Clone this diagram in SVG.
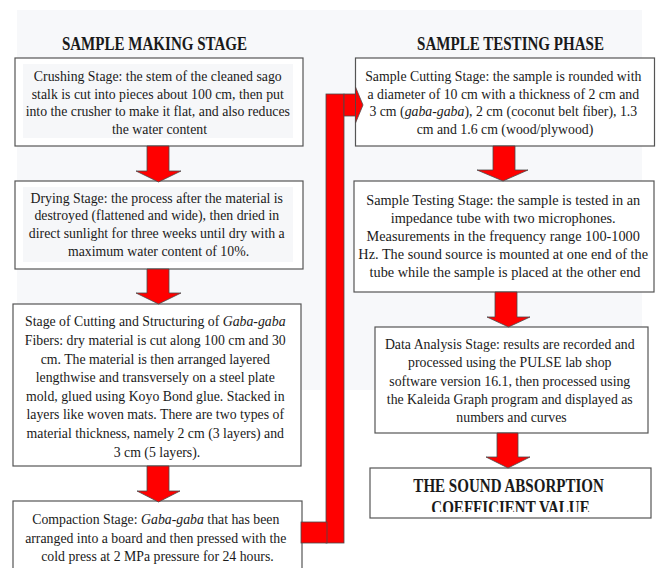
<svg xmlns="http://www.w3.org/2000/svg" width="662" height="568" viewBox="0 0 662 568">
<defs>
<style>
.t{font-family:"Liberation Serif","Times New Roman",serif;font-size:15px;fill:#1a1a1a;text-anchor:middle}
.h{font-family:"Liberation Serif","Times New Roman",serif;font-size:18px;font-weight:bold;fill:#1a1a1a;text-anchor:middle}
.box{fill:#ffffff;stroke:#555555;stroke-width:1.2}
.inner{fill:#f6f7f9}
.ar{fill:#ff0000;stroke:#4a4a4a;stroke-width:0.8;stroke-linejoin:miter}
.it{font-style:italic}
</style>
<clipPath id="clip8"><rect x="370" y="468" width="281" height="44"/></clipPath>
</defs>
<rect x="0" y="0" width="662" height="568" fill="#ffffff"/>
<rect x="17" y="10" width="625" height="380" fill="#f7f8fa"/>

<g id="title-left"><text class="h" transform="translate(154.5 0) scale(0.836 1)"><tspan x="0" y="50">SAMPLE MAKING STAGE</tspan></text></g>
<g id="title-right"><text class="h" transform="translate(510.5 0) scale(0.836 1)"><tspan x="0" y="50">SAMPLE TESTING PHASE</tspan></text></g>

<g id="crushing">
<rect class="box" x="15" y="58" width="288" height="88"/>
<rect class="inner" x="23" y="64" width="270" height="74"/>
<text class="t" transform="translate(159.5 0) scale(0.92 1)">
<tspan x="0" y="81">Crushing Stage: the stem of the cleaned sago</tspan>
<tspan x="0" y="98.7">stalk is cut into pieces about 100 cm, then put</tspan>
<tspan x="0" y="116.4">into the crusher to make it flat, and also reduces</tspan>
<tspan x="0" y="134.1">the water content</tspan>
</text>
</g>

<g id="drying">
<rect class="box" x="15" y="181" width="288" height="88"/>
<rect class="inner" x="23" y="187" width="270" height="75"/>
<text class="t" transform="translate(158.5 0) scale(0.92 1)">
<tspan x="0" y="202.7">Drying Stage: the process after the material is</tspan>
<tspan x="0" y="220.4">destroyed (flattened and wide), then dried in</tspan>
<tspan x="0" y="238.1">direct sunlight for three weeks until dry with a</tspan>
<tspan x="0" y="255.8">maximum water content of 10%.</tspan>
</text>
</g>

<g id="cutting-structuring">
<rect class="box" x="13" y="304" width="288" height="162"/>
<text class="t" transform="translate(157 0) scale(0.92 1)">
<tspan x="0" y="326.5">Stage of Cutting and Structuring of <tspan class="it">Gaba-gaba</tspan></tspan>
<tspan x="0" y="345.1">Fibers: dry material is cut along 100 cm and 30</tspan>
<tspan x="0" y="363.7">cm. The material is then arranged layered</tspan>
<tspan x="0" y="382.3">lengthwise and transversely on a steel plate</tspan>
<tspan x="0" y="400.9">mold, glued using Koyo Bond glue. Stacked in</tspan>
<tspan x="0" y="419.5">layers like woven mats. There are two types of</tspan>
<tspan x="0" y="438.1">material thickness, namely 2 cm (3 layers) and</tspan>
<tspan x="0" y="456.7">3 cm (5 layers).</tspan>
</text>
</g>

<g id="compaction">
<rect class="box" x="13" y="501" width="289" height="80"/>
<text class="t" transform="translate(157.5 0) scale(0.92 1)">
<tspan x="0" y="524.5">Compaction Stage: <tspan class="it">Gaba-gaba</tspan> that has been</tspan>
<tspan x="0" y="543">arranged into a board and then pressed with the</tspan>
<tspan x="0" y="561.5">cold press at 2 MPa pressure for 24 hours.</tspan>
</text>
</g>

<g id="sample-cutting">
<rect class="box" x="355.5" y="58" width="299" height="88"/>
<text class="t" transform="translate(505 0) scale(0.92 1)">
<tspan x="0" y="81">Sample Cutting Stage: the sample is rounded with</tspan>
<tspan x="0" y="98.7">a diameter of 10 cm with a thickness of 2 cm and</tspan>
<tspan x="0" y="116.4">3 cm (<tspan class="it">gaba-gaba</tspan>), 2 cm (coconut belt fiber), 1.3</tspan>
<tspan x="0" y="134.1">cm and 1.6 cm (wood/plywood)</tspan>
</text>
</g>

<g id="sample-testing">
<rect class="box" x="354" y="181" width="300" height="111"/>
<text class="t" transform="translate(505 0) scale(0.953 1)">
<tspan x="0" y="205">Sample Testing Stage: the sample is tested in an</tspan>
<tspan x="0" y="223">impedance tube with two microphones.</tspan>
<tspan x="0" y="241">Measurements in the frequency range 100-1000</tspan>
<tspan x="0" y="259">Hz. The sound source is mounted at one end of the</tspan>
<tspan x="0" y="277">tube while the sample is placed at the other end</tspan>
</text>
</g>

<g id="data-analysis">
<rect class="box" x="375" y="327" width="273" height="106"/>
<text class="t" transform="translate(511.5 0) scale(0.92 1)">
<tspan x="0" y="349">Data Analysis Stage: results are recorded and</tspan>
<tspan x="0" y="367.3">processed using the PULSE lab shop</tspan>
<tspan x="0" y="385.6">software version 16.1, then processed using</tspan>
<tspan x="0" y="403.9">the Kaleida Graph program and displayed as</tspan>
<tspan x="0" y="422.2">numbers and curves</tspan>
</text>
</g>

<g id="result">
<rect class="box" x="370" y="468" width="281" height="50"/>
<g clip-path="url(#clip8)">
<text class="h" transform="translate(510.5 0) scale(0.836 1)">
<tspan x="0" y="491.7">THE SOUND ABSORPTION</tspan>
<tspan x="0" y="514.5">COEFFICIENT VALUE</tspan>
</text>
</g>
</g>

<g id="connectors">
<polygon class="ar" points="147,146 169,146 169,171 181,171 158.5,182 136,171 147,171"/>
<polygon class="ar" points="147,269 169,269 169,293 181,293 158.5,304 136,293 147,293"/>
<polygon class="ar" points="147,466 169,466 169,491 180,491 158.5,502 137,491 147,491"/>
<polygon class="ar" points="493,146 515,146 515,170 528,170 503,181 477,170 493,170"/>
<polygon class="ar" points="495,292 517,292 517,317 530,317 508.5,327 487,317 495,317"/>
<polygon class="ar" points="497,433 518,433 518,457 530,457 508,468 486,457 497,457"/>
<rect class="ar" x="326" y="94" width="18" height="449"/>
<rect class="ar" x="301" y="522" width="26" height="21"/>
<rect class="ar" x="344" y="94" width="11.5" height="22"/>
<polygon class="ar" points="355.5,87 363,105 355.5,123"/>
</g>
</svg>
